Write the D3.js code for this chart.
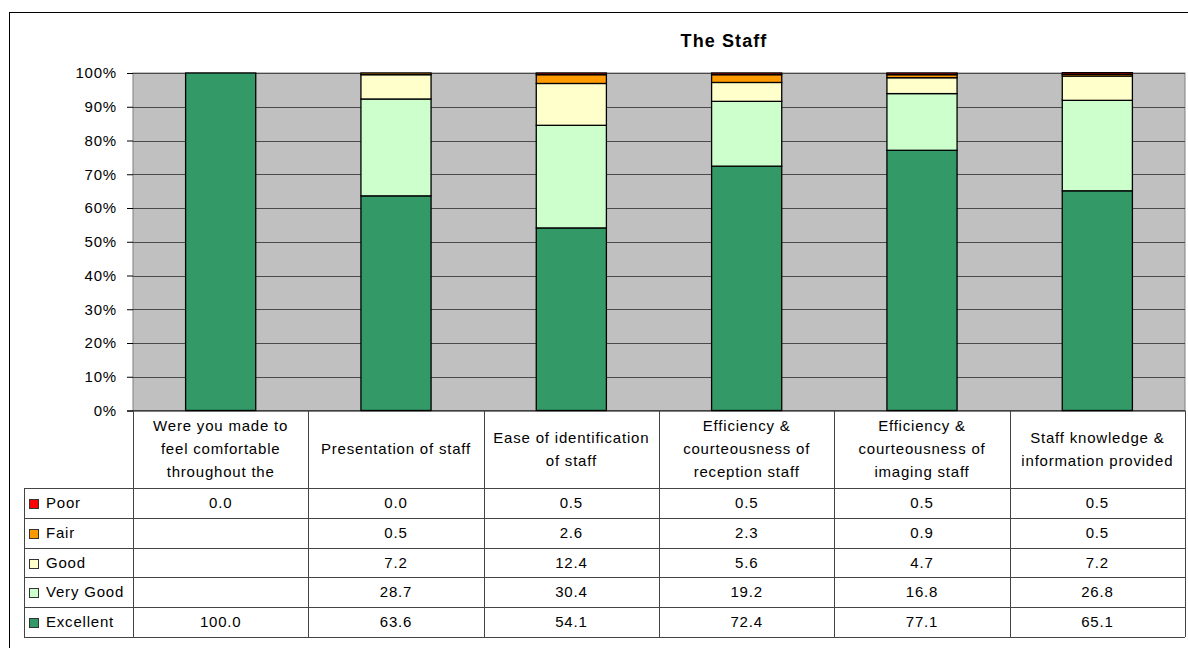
<!DOCTYPE html>
<html>
<head>
<meta charset="utf-8">
<script src="https://cdn.jsdelivr.net/npm/d3@7"></script>
<style>
  body { margin: 0; background: #fff; }
  svg { font-family: "Liberation Sans", Arial, sans-serif; }
</style>
</head>
<body>
<svg id="chart"></svg>
<script>
// data
const categories = [
  "Were you made to feel comfortable throughout the",
  "Presentation of staff",
  "Ease of identification of staff",
  "Efficiency & courteousness of reception staff",
  "Efficiency & courteousness of imaging staff",
  "Staff knowledge & information provided"
];
const headerLines = [
  ["Were you made to", "feel comfortable", "throughout the"],
  ["Presentation of staff"],
  ["Ease of identification", "of staff"],
  ["Efficiency &", "courteousness of", "reception staff"],
  ["Efficiency &", "courteousness of", "imaging staff"],
  ["Staff knowledge &", "information provided"]
];
const poor      = [0.0, 0.0, 0.5, 0.5, 0.5, 0.5];
const fair      = [null, 0.5, 2.6, 2.3, 0.9, 0.5];
const good      = [null, 7.2, 12.4, 5.6, 4.7, 7.2];
const veryGood  = [null, 28.7, 30.4, 19.2, 16.8, 26.8];
const excellent = [100.0, 63.6, 54.1, 72.4, 77.1, 65.1];
const yTicks = [0, 10, 20, 30, 40, 50, 60, 70, 80, 90, 100];

const series = [
  {name: "Poor", values: poor, color: "#FF0000"},
  {name: "Fair", values: fair, color: "#FF9900"},
  {name: "Good", values: good, color: "#FFFFCC"},
  {name: "Very Good", values: veryGood, color: "#CCFFCC"},
  {name: "Excellent", values: excellent, color: "#339966"}
];

// canvas
const width = 1188, height = 648;
const plot = {left: 133, right: 1185, top: 73, bottom: 410.5};
const table = {legendLeft: 24, headerBottom: 488, rowH: 29.8};
const lineColor = "#444";
const fontSize = 15, spacing = 0.8;

const svg = d3.select("#chart").attr("width", width).attr("height", height);

// outer frame
svg.append("rect")
  .attr("x", 9.5).attr("y", 12.5)
  .attr("width", 1300).attr("height", 800)
  .attr("fill", "none").attr("stroke", "#000");

// scales
const xScale = d3.scaleBand().domain(categories).range([plot.left, plot.right]);
const yScale = d3.scaleLinear().domain([0, 100]).range([plot.bottom, plot.top]);

// plot background
svg.append("rect")
  .attr("x", plot.left).attr("y", plot.top)
  .attr("width", plot.right - plot.left).attr("height", plot.bottom - plot.top)
  .attr("fill", "#C0C0C0").attr("stroke", "#808080");

// gridlines
svg.append("g").selectAll("line")
  .data(yTicks.filter(d => d > 0))
  .enter().append("line")
  .attr("x1", plot.left).attr("x2", plot.right)
  .attr("y1", d => Math.round(yScale(d)) + 0.5).attr("y2", d => Math.round(yScale(d)) + 0.5)
  .attr("stroke", "#4a4a4a").attr("stroke-width", 1.2);

// stacked bars
const rows = categories.map((c, i) => {
  const r = {cat: c};
  series.forEach(s => r[s.name] = s.values[i] || 0);
  return r;
});
const stackOrder = ["Excellent", "Very Good", "Good", "Fair", "Poor"];
const stacked = d3.stack().keys(stackOrder)(rows);
const colorOf = name => series.find(s => s.name === name).color;
const barW = xScale.bandwidth() * 0.4;

svg.append("g").selectAll("g")
  .data(stacked)
  .enter().append("g")
  .attr("fill", d => colorOf(d.key))
  .selectAll("rect")
  .data(d => d.filter(p => p[1] - p[0] > 0))
  .enter().append("rect")
  .attr("x", d => xScale(d.data.cat) + (xScale.bandwidth() - barW) / 2)
  .attr("y", d => yScale(d[1]))
  .attr("width", barW)
  .attr("height", d => yScale(d[0]) - yScale(d[1]))
  .attr("stroke", "#000").attr("stroke-width", 1.3);

// y axis
const yAxis = d3.axisLeft(yScale)
  .tickValues(yTicks)
  .tickSize(6)
  .tickPadding(10)
  .tickFormat(d => d + "%");
const yg = svg.append("g")
  .attr("transform", "translate(" + plot.left + ",0)")
  .call(yAxis);
yg.select(".domain").remove();
yg.selectAll(".tick line").attr("stroke", "#000");
yg.selectAll(".tick text")
  .attr("font-size", fontSize).attr("fill", "#000")
  .attr("letter-spacing", spacing)
  .attr("font-family", "Liberation Sans, Arial, sans-serif");

// axis line along the bottom
svg.append("line")
  .attr("x1", plot.left - 6).attr("x2", plot.right)
  .attr("y1", plot.bottom + 0.5).attr("y2", plot.bottom + 0.5)
  .attr("stroke", "#000");

// title
svg.append("text")
  .attr("x", 724).attr("y", 47)
  .attr("text-anchor", "middle")
  .attr("font-size", 18).attr("font-weight", "bold")
  .attr("letter-spacing", 1.1)
  .text("The Staff");

// data table
const tbl = svg.append("g");
const tableBottom = table.headerBottom + table.rowH * series.length;

// vertical column lines
const colEdges = categories.map(c => xScale(c)).concat([plot.right]);
tbl.selectAll(".vcol")
  .data(colEdges)
  .enter().append("line")
  .attr("x1", d => Math.round(d) + 0.5).attr("x2", d => Math.round(d) + 0.5)
  .attr("y1", plot.bottom).attr("y2", tableBottom)
  .attr("stroke", lineColor);

// legend column left edge
tbl.append("line")
  .attr("x1", table.legendLeft + 0.5).attr("x2", table.legendLeft + 0.5)
  .attr("y1", table.headerBottom).attr("y2", tableBottom)
  .attr("stroke", lineColor);

// horizontal row lines
tbl.selectAll(".hrow")
  .data(d3.range(series.length + 1))
  .enter().append("line")
  .attr("x1", table.legendLeft).attr("x2", plot.right)
  .attr("y1", d => Math.round(table.headerBottom + d * table.rowH) + 0.5)
  .attr("y2", d => Math.round(table.headerBottom + d * table.rowH) + 0.5)
  .attr("stroke", lineColor);

// header labels
const headerMid = (plot.bottom + table.headerBottom) / 2;
tbl.selectAll(".hdr")
  .data(headerLines)
  .enter().append("text")
  .attr("text-anchor", "middle")
  .attr("font-size", fontSize)
  .attr("letter-spacing", spacing)
  .each(function(lines, i) {
    const cx = xScale(categories[i]) + xScale.bandwidth() / 2;
    const y0 = headerMid - (lines.length - 1) * 23 / 2 + 5;
    d3.select(this).selectAll("tspan")
      .data(lines).enter().append("tspan")
      .attr("x", cx)
      .attr("y", (l, j) => y0 + j * 23)
      .text(l => l);
  });

// rows: legend key + values
series.forEach((s, r) => {
  const cy = table.headerBottom + r * table.rowH + table.rowH / 2;
  tbl.append("rect")
    .attr("x", 29.5).attr("y", Math.round(cy - 4) + 0.5)
    .attr("width", 9).attr("height", 9)
    .attr("fill", s.color).attr("stroke", "#333");
  tbl.append("text")
    .attr("x", 46).attr("y", cy + 5)
    .attr("font-size", fontSize)
    .attr("letter-spacing", spacing)
    .text(s.name);
  tbl.selectAll(".v" + r)
    .data(s.values)
    .enter().append("text")
    .attr("x", (d, i) => xScale(categories[i]) + xScale.bandwidth() / 2)
    .attr("y", cy + 5)
    .attr("text-anchor", "middle")
    .attr("font-size", fontSize)
    .attr("letter-spacing", spacing)
    .text(d => d === null ? "" : d.toFixed(1));
});
</script>
</body>
</html>
